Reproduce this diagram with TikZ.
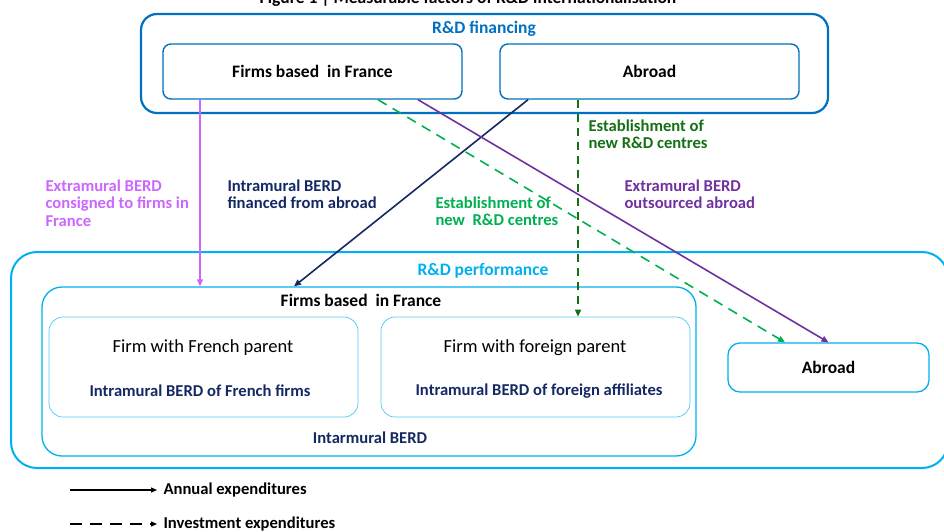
\documentclass[tikz,border=0pt]{standalone}
\usepackage{fontspec}
\setmainfont{Carlito}
\usepackage{tikz}
\usetikzlibrary{arrows.meta}

\definecolor{finblue}{RGB}{0,112,192}
\definecolor{perfblue}{RGB}{0,176,240}
\definecolor{navyblue}{RGB}{20,40,100}
\definecolor{lilac}{RGB}{204,102,255}
\definecolor{plum}{RGB}{112,48,160}
\definecolor{darkgreen}{RGB}{20,112,20}
\definecolor{lightgreen}{RGB}{0,176,80}

\begin{document}
\begin{tikzpicture}[
	x=1pt, y=-1pt,
	finbox/.style={rectangle, rounded corners=8pt, draw=finblue, line width=1.4pt, minimum width=299pt, minimum height=55pt, font=\fontsize{17.5}{20}\selectfont\bfseries},
	perfbox/.style={rectangle, rounded corners=12pt, draw=perfblue, line width=1.3pt, font=\fontsize{17.5}{20}\selectfont\bfseries},
	firmbox/.style={rectangle, rounded corners=14pt, draw=perfblue!70, line width=0.7pt, minimum width=309pt, minimum height=100pt},
	grouplabel/.style={font=\fontsize{17.5}{20}\selectfont\bfseries},
	smalllabel/.style={font=\fontsize{16.6}{19}\selectfont\bfseries},
	flowlabel/.style={align=left, anchor=north west, font=\fontsize{16.6}{17.5}\selectfont\bfseries},
	flow/.style={line width=1.6pt, -{Triangle[length=7pt,width=6pt]}},
	invest/.style={flow, dash pattern=on 8pt off 6pt},
	]
	\useasboundingbox (0,0) rectangle (944,532);

	%Title (top edge of the page cuts it)
	\node[grouplabel, anchor=base] (title) at (468,3.5) {Figure 1 | Measurable factors of R\&D internationalisation};

	%Financing side
	\draw[finblue, line width=2.2pt, rounded corners=16pt] (141,14) rectangle (828,113);
	\node[grouplabel, text=finblue] (finlabel) at (484,29) {R\&D financing};
	\node[finbox] (topfr) at (312.5,71.5) {Firms based\ \ in France};
	\node[finbox] (topab) at (649.5,71.5) {Abroad};

	%Performance side
	\draw[perfblue, line width=2pt, rounded corners=26pt] (11,252) rectangle (948,468);
	\node[grouplabel, text=perfblue] (perflabel) at (483,271) {R\&D performance};
	\node[perfbox, rounded corners=20pt, minimum width=654pt, minimum height=169pt] (perffr) at (369,371.5) {};
	\node[grouplabel] (perffrlabel) at (361,300) {Firms based\ \ in France};
	\node[firmbox] (french) at (203.5,367) {};
	\node[firmbox] (forgn) at (535.5,367) {};
	\node[font=\fontsize{18.5}{21}\selectfont] (frenchname) at (203,348) {Firm with French parent};
	\node[font=\fontsize{18.5}{21}\selectfont] (forgnname) at (535,348) {Firm with foreign parent};
	\node[smalllabel, text=navyblue] (frenchberd) at (200,391) {Intramural BERD of French firms};
	\node[smalllabel, text=navyblue] (forgnberd) at (539,391) {Intramural BERD of foreign affiliates};
	\node[smalllabel, text=navyblue] (allberd) at (370,438) {Intarmural BERD};
	\node[perfbox, minimum width=201pt, minimum height=49pt] (perfab) at (828.5,367.5) {Abroad};

	%Lines
	\draw[flow, lilac] ([xshift=-112.5pt]topfr.south) -- ([xshift=-169pt]perffr.north);
	\draw[flow, navyblue] ([xshift=-121.5pt]topab.south) -- ([xshift=-75pt]perffr.north);
	\draw[flow, plum] ([xshift=105.5pt]topfr.south) -- (perfab.north);
	\draw[invest, darkgreen] ([xshift=-71.5pt]topab.south) -- ([xshift=42.5pt]forgn.north);
	\draw[invest, lightgreen, dash pattern=on 10pt off 7pt] ([xshift=65.5pt]topfr.south) -- ([xshift=-43.5pt]perfab.north);

	%Line labels
	\node[flowlabel, text=lilac] (lilaclabel) at (42,176) {Extramural BERD\\consigned to firms in\\France};
	\node[flowlabel, text=navyblue] (navylabel) at (224,176) {Intramural BERD\\financed from abroad};
	\node[flowlabel, text=plum] (plumlabel) at (621,176) {Extramural BERD\\outsourced abroad};
	\node[flowlabel, text=darkgreen] (dgreenlabel) at (585,116) {Establishment of\\new R\&D centres};
	\node[flowlabel, text=lightgreen] (lgreenlabel) at (432,193) {Establishment of\\new\ \ R\&D centres};

	%Legend
	\coordinate (annualA) at (70,490);
	\coordinate (annualB) at (157,490);
	\coordinate (investA) at (70,524);
	\coordinate (investB) at (157,524);
	\draw[line width=1.3pt, -{Triangle[length=6pt,width=5pt]}] (annualA) -- (annualB);
	\draw[line width=1.3pt, dash pattern=on 12pt off 8pt, -{Triangle[length=6pt,width=5pt]}] (investA) -- (investB);
	\node[smalllabel, anchor=west] (annual) at (160,490) {Annual expenditures};
	\node[smalllabel, anchor=west] (invest) at (160,524) {Investment expenditures};
\end{tikzpicture}
\end{document}
